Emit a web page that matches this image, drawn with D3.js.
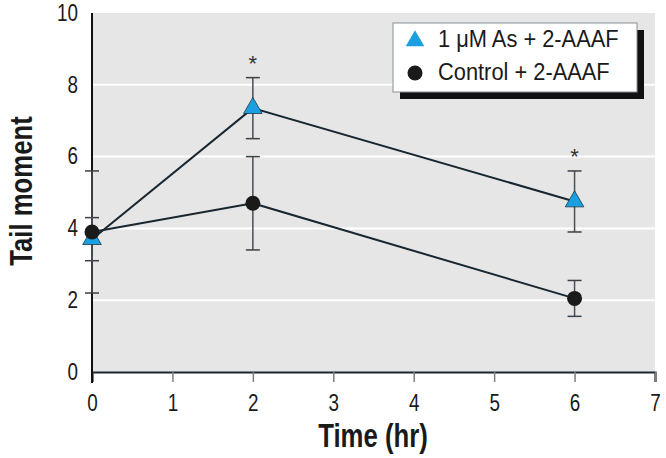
<!DOCTYPE html>
<html>
<head>
<meta charset="utf-8">
<script src="https://cdn.jsdelivr.net/npm/d3@7"></script>
<style>
  html, body { margin: 0; padding: 0; background: #ffffff; }
  svg { display: block; }
  text { font-family: 'Liberation Sans', Arial, sans-serif; }
</style>
</head>
<body>
<svg id="chart" width="666" height="458"></svg>
<script>
// ---- data ----
const timeHr = [0, 2, 6];
const arsenicMean = [3.7, 7.35, 4.75];
const arsenicErr = [0.6, 0.85, 0.85];
const controlMean = [3.9, 4.7, 2.05];
const controlErr = [1.7, 1.3, 0.5];
const xTickValues = [0, 1, 2, 3, 4, 5, 6, 7];
const yTickValues = [0, 2, 4, 6, 8, 10];
const gridValues = [2, 4, 6, 8];
const sigTimes = [2, 6];
const sigLevels = [8.75, 6.15];
const seriesNames = ["1 \u03BCM As + 2-AAAF", "Control + 2-AAAF"];
const xTitle = "Time (hr)";
const yTitle = "Tail moment";

// ---- layout ----
const svg = d3.select("#chart");
const pLeft = 92, pRight = 655, pTop = 13, pBottom = 372;
const x = d3.scaleLinear().domain([0, 7]).range([pLeft, pRight]);
const y = d3.scaleLinear().domain([0, 10]).range([pBottom, pTop]);

const blue = "#1aa0e0";
const lineColor = "#17262f";
const FONT = "'Liberation Sans', Arial, sans-serif";
const TICK_SX = 0.82;

// plot background
svg.append("rect").attr("x", pLeft).attr("y", pTop)
  .attr("width", pRight - pLeft).attr("height", pBottom - pTop)
  .attr("fill", "#e6e6e7");

// white gridlines
svg.append("g").selectAll("line").data(gridValues).join("line")
  .attr("x1", pLeft).attr("x2", pRight)
  .attr("y1", d => y(d)).attr("y2", d => y(d))
  .attr("stroke", "#ffffff").attr("stroke-width", 2);

// x axis
const xAxis = d3.axisBottom(x).tickValues(xTickValues).tickSize(10).tickPadding(13).tickFormat(d3.format("d"));
const gx = svg.append("g").attr("transform", `translate(0,${pBottom})`).call(xAxis);
gx.select(".domain").attr("stroke", "#1c2630").attr("stroke-width", 2.2);
gx.selectAll(".tick line").attr("stroke", "#7a7f84").attr("stroke-width", 1.5);
gx.selectAll(".tick text").attr("font-size", 23).attr("fill", "#1a1a1a").attr("font-family", FONT)
  .attr("transform", `scale(${TICK_SX},1)`);

// y axis
const yAxis = d3.axisLeft(y).tickValues(yTickValues).tickSize(0).tickPadding(17).tickFormat(d3.format("d"));
const gy = svg.append("g").attr("transform", `translate(${pLeft},0)`).call(yAxis);
gy.select(".domain").remove();
gy.selectAll(".tick text").attr("font-size", 23).attr("fill", "#1a1a1a").attr("font-family", FONT)
  .attr("transform", `scale(${TICK_SX},1)`);
svg.append("line").attr("x1", pLeft).attr("x2", pLeft).attr("y1", pTop).attr("y2", pBottom + 11)
  .attr("stroke", "#111").attr("stroke-width", 2);

// axis titles
svg.append("text").attr("transform", "translate(373,447) scale(0.78,1)").attr("text-anchor", "middle")
  .attr("font-size", 33).attr("font-weight", "bold").attr("fill", "#1a1a1a").text(xTitle);
svg.append("text").attr("transform", "translate(32,191) rotate(-90) scale(0.83,1)").attr("text-anchor", "middle")
  .attr("font-size", 31).attr("font-weight", "bold").attr("fill", "#1a1a1a").text(yTitle);

// error bars
function errorBars(means, errs) {
  const g = svg.append("g");
  const d = timeHr.map((t, i) => ({ t, m: means[i], e: errs[i] }));
  g.selectAll("line.v").data(d).join("line").attr("class", "v")
    .attr("x1", p => x(p.t)).attr("x2", p => x(p.t))
    .attr("y1", p => y(p.m + p.e)).attr("y2", p => y(p.m - p.e))
    .attr("stroke", "#4a4f55").attr("stroke-width", 1.5);
  [1, -1].forEach(s => {
    g.append("g").selectAll("line").data(d).join("line")
      .attr("x1", p => x(p.t) - 7).attr("x2", p => x(p.t) + 7)
      .attr("y1", p => y(p.m + s * p.e)).attr("y2", p => y(p.m + s * p.e))
      .attr("stroke", "#3a4047").attr("stroke-width", 1.5);
  });
}
errorBars(arsenicMean, arsenicErr);
errorBars(controlMean, controlErr);

// lines
const lineGen = d3.line().x((d, i) => x(timeHr[i])).y(d => y(d));
[arsenicMean, controlMean].forEach(s => {
  svg.append("path").datum(s).attr("d", lineGen)
    .attr("fill", "none").attr("stroke", lineColor).attr("stroke-width", 2);
});

// markers
const tri = d3.symbol(d3.symbolTriangle, 150);
svg.append("g").selectAll("path").data(arsenicMean).join("path")
  .attr("d", tri)
  .attr("transform", (d, i) => `translate(${x(timeHr[i])},${y(d)})`)
  .attr("fill", blue).attr("stroke", "#1d3a4a").attr("stroke-width", 0.8);
svg.append("g").selectAll("circle").data(controlMean).join("circle")
  .attr("cx", (d, i) => x(timeHr[i])).attr("cy", d => y(d)).attr("r", 7.5)
  .attr("fill", "#1a1a1a");

// significance asterisks
svg.append("g").selectAll("text").data(sigTimes).join("text")
  .attr("x", d => x(d)).attr("y", (d, i) => y(sigLevels[i]) + 13)
  .attr("text-anchor", "middle").attr("font-size", 22).attr("fill", "#333")
  .text("*");

// legend
const lg = svg.append("g");
lg.append("rect").attr("x", 400).attr("y", 30).attr("width", 244).attr("height", 69).attr("fill", "#111");
lg.append("rect").attr("x", 393).attr("y", 23).attr("width", 244).attr("height", 69)
  .attr("fill", "#ffffff").attr("stroke", "#8a8f94").attr("stroke-width", 1);
lg.append("path").attr("d", d3.symbol(d3.symbolTriangle, 150)())
  .attr("transform", "translate(415,41)").attr("fill", blue);
lg.append("circle").attr("cx", 415).attr("cy", 73).attr("r", 7.5).attr("fill", "#1a1a1a");
lg.selectAll("text").data(seriesNames).join("text")
  .attr("transform", (d, i) => `translate(438,${47 + i * 33}) scale(0.91,1)`)
  .attr("font-size", 24).attr("fill", "#1a1a1a").text(d => d);
</script>
</body>
</html>
